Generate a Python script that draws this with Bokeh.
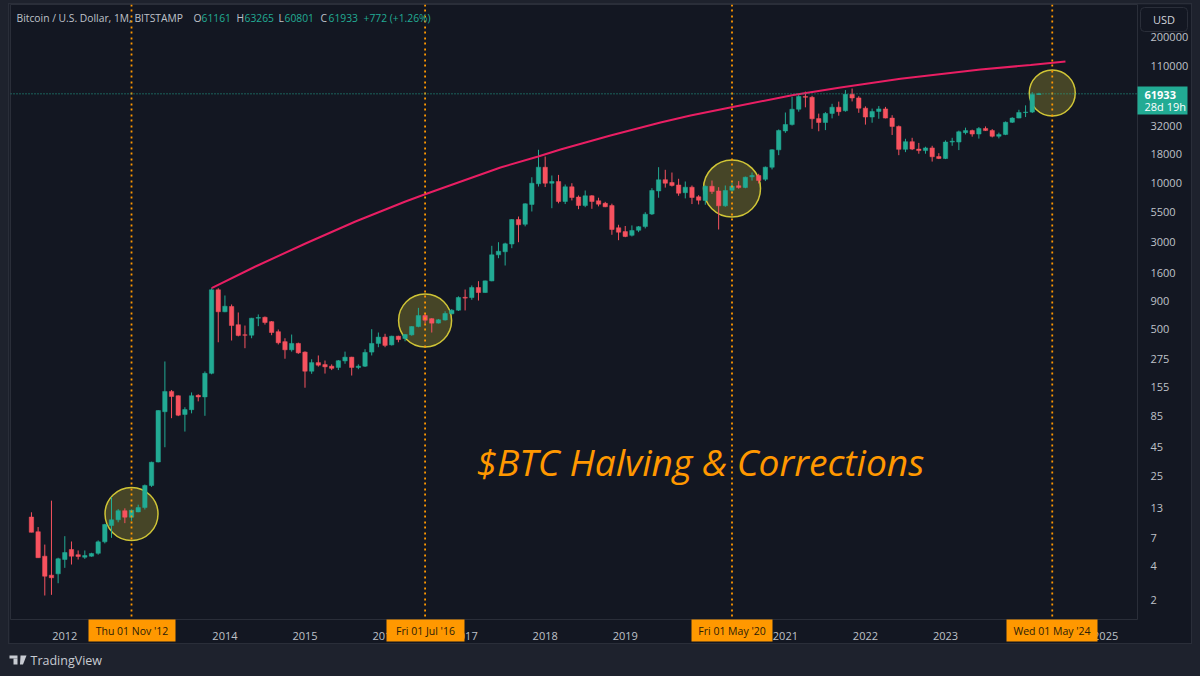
from bokeh.plotting import figure
from bokeh.layouts import column
from bokeh.models import (BoxAnnotation, ColumnDataSource, FixedTicker, Label, PolyAnnotation, Span,
                          BasicTickFormatter)
from bokeh.embed import file_html
from bokeh.resources import INLINE

# ---- monthly candles, Aug 2011 .. Mar 2024 -----------------------------------------
first_month = -5  # months after Jan 2012
opens = [10.8, 8.0, 4.85, 3.29, 3.38,
         4.53, 5.56, 5.0, 4.75, 4.85, 5.14, 6.5, 9.1, 10.2, 12.3, 10.76, 12.0,
         13.1, 20.6, 33.3, 93, 141, 129, 88, 97, 130, 126, 204, 1126,
         718, 800, 552, 448, 445, 630, 642, 587, 478, 390, 330, 376,
         315, 213, 254, 244, 236, 230, 263, 284, 230, 236, 315, 376,
         428, 365, 436, 416, 448, 531, 665, 624, 570, 607, 690, 742,
         965, 960, 1180, 1064, 1350, 2300, 2450, 2870, 4740, 4300, 6450, 9850,
         13800, 9950, 10300, 6850, 9250, 7500, 6300, 7700, 6950, 6600, 6300, 4000,
         3700, 3430, 3800, 4100, 5300, 8500, 10700, 10100, 9600, 8200, 9178, 7540,
         7000, 9354, 8500, 6270, 8620, 9450, 9130, 11340, 11650, 10780, 13800, 19700,
         29000, 33000, 45200, 58700, 57700, 37300, 34440, 41500, 47100, 43800, 61300, 57000,
         46200, 38500, 43200, 45500, 37700, 31800, 19900, 23300, 20000, 19400, 20500, 17150,
         16500, 23100, 23100, 28000, 29200, 27200, 30500, 29200, 26000, 27000, 34600, 37700,
         42300, 42600, 61161]
highs = [11.9, 8.8, 6.15, 15.1, 4.7,
         7.3, 6.55, 5.45, 5.45, 5.2, 6.7, 9.4, 16.2, 12.7, 12.9, 12.6, 13.9,
         21, 33.5, 96, 260, 145, 130, 102, 138, 133, 212, 1163, 1163,
         1002, 834, 708, 542, 634, 680, 652, 595, 500, 418, 451, 382,
         320, 272, 294, 265, 245, 268, 318, 286, 245, 334, 503, 470,
         458, 440, 440, 455, 535, 778, 698, 630, 620, 725, 760, 985,
         1132, 1230, 1342, 1360, 2768, 2979, 2950, 4780, 5038, 6600, 11250, 19724,
         17180, 11656, 11800, 9700, 9954, 7750, 8576, 7800, 7400, 6800, 6550, 4256,
         4150, 4200, 4150, 5500, 9000, 13814, 13098, 12388, 10900, 10312, 9500, 7800,
         9500, 10520, 9178, 9500, 10000, 10400, 11400, 12400, 12070, 14000, 19900, 29900,
         42270, 58350, 61780, 64800, 59500, 41300, 42600, 50500, 52800, 66900, 69000, 59000,
         47900, 45800, 48200, 47400, 40000, 32400, 24700, 25200, 22700, 21000, 21400, 18400,
         23900, 25200, 29200, 31000, 29800, 31400, 31800, 30100, 28000, 35200, 38400, 44700,
         48900, 64000, 63265]
lows = [7.9, 4.7, 2.17, 2.2, 2.79,
        3.82, 4.09, 4.53, 4.59, 4.8, 5.0, 6.3, 7.06, 9.7, 9.53, 10.0, 11.9,
        12.6, 20, 33, 45, 81.5, 85, 62, 90, 115, 85.6, 200, 385,
        712, 399, 434, 341, 418, 535, 553, 445, 368, 275, 318, 304,
        152, 202, 234, 203, 218, 218, 248, 195, 222, 232, 294, 348,
        348, 360, 385, 393, 440, 523, 565, 470, 565, 600, 680, 730,
        738, 918, 904, 1060, 1340, 2148, 1850, 2636, 2979, 4120, 5584, 9300,
        9200, 5972, 6600, 6500, 7000, 5852, 6100, 5900, 6200, 6100, 3468, 3104,
        3300, 3350, 3660, 3950, 5200, 7400, 9100, 9300, 7700, 7300, 6500, 6450,
        6400, 8000, 3864, 6150, 8130, 8900, 8980, 10500, 9900, 10400, 13200, 17660,
        27900, 32400, 43000, 47000, 30272, 28800, 29500, 37500, 39600, 43000, 53000, 42000,
        33000, 34300, 37200, 37500, 26700, 17660, 18800, 19600, 18200, 18200, 15500, 16300,
        16300, 21400, 19600, 27000, 25800, 24800, 29000, 25400, 24900, 26600, 34100, 37600,
        38500, 41800, 60801]
closes = [7.9, 4.7, 3.22, 3.12, 4.6,
          5.23, 4.85, 4.82, 4.92, 5.12, 6.5, 9.27, 10.2, 12.3, 10.76, 12.4, 13.1,
          20.6, 33.1, 95.3, 141, 127, 86.7, 97.3, 129, 126, 204, 1126, 718,
          805, 542, 443, 445, 630, 639, 577, 470, 381, 330, 376, 310,
          213, 254, 241, 233, 226, 264, 284, 230, 236, 313, 376, 428,
          361, 436, 407, 451, 531, 665, 604, 569, 610, 694, 741, 962,
          950, 1180, 1064, 1352, 2302, 2478, 2884, 4740, 4256, 6532, 9954, 13814,
          9954, 10300, 6854, 9250, 7432, 6310, 7696, 6854, 6486, 6148, 3864, 3656,
          3350, 3784, 4084, 5284, 8576, 10674, 9954, 9506, 8116, 9178, 7432, 7032,
          9354, 8396, 6270, 8576, 9354, 9100, 11250, 11656, 10520, 13814, 19724, 29244,
          33060, 45200, 58620, 57700, 37160, 34440, 41400, 47100, 43000, 61300, 56900, 46200,
          38500, 43200, 45500, 37700, 31800, 19900, 23300, 20000, 19400, 20500, 17100, 16500,
          23100, 23500, 28500, 29200, 27200, 30500, 29200, 26000, 27000, 34600, 37700, 42300,
          42600, 61200, 61933]

# ---- drawn overlays --------------------------------------------------------------------
curve_month = [22, 28.58, 36.08, 43.57, 51.06, 53.9, 57.06, 65.3, 70.95, 74.29, 81.79, 89.28,
               93.78, 99.92, 109.2, 116.27, 125.26, 137.25, 144.74, 149.98]
curve_price = [1163, 1813, 2902, 4550, 6848, 7904, 9210, 13726, 17192, 19834, 26414, 34454,
               39760, 47120, 60480, 70480, 84200, 101840, 111680, 119950]
halving_month = [10, 54, 100, 148]
halving_label = ["Thu 01 Nov '12", "Fri 01 Jul '16", "Fri 01 May '20", "Wed 01 May '24"]
circle_price = [11.5, 601, 8930, 63000]
circle_size = [53, 53, 57, 46]

year_ticks = [0, 24, 36, 48, 60, 72, 84, 96, 108, 120, 132, 156]
year_labels = ["2012", "2014", "2015", "2016", "2017", "2018", "2019", "2020", "2021", "2022", "2023", "2025"]
price_ticks = [2, 4, 7, 13, 25, 45, 85, 155, 275, 500, 900, 1600, 3000, 5500, 10000, 18000, 32000,
               110000, 200000]
last_price = 61933

BG, PANEL, EDGE = "#1e222d", "#131722", "#2a2e39"
UP, DOWN = "#22ab94", "#f7525f"
ORANGE = "#ff9800"
TEXT = "#bfc2c9"
FONT = "Open Sans"

# ---- frame: the figure covers the chart panel, page position (9, 4) ---------------------
OX, OY = 9, 4
FL, FR, FT, FB = 10, 1137, 4, 619
ppm, x0 = 6.672, 64.3
ppd, y2 = 112.6, 599.0
x_start, x_end = (FL - x0) / ppm, (FR - x0) / ppm
y_low = 2 * 10 ** ((y2 - FB) / ppd)
y_high = 2 * 10 ** ((y2 - FT) / ppd)

p = figure(width=1182, height=639, output_backend="svg", toolbar_location=None,
           y_axis_type="log", y_axis_location="right",
           x_range=(x_start, x_end), y_range=(y_low, y_high),
           min_border_left=FL - OX, min_border_right=OX + 1182 - FR, min_border_top=0,
           min_border_bottom=OY + 639 - FB,
           background_fill_color=PANEL, border_fill_color=PANEL, outline_line_color=EDGE,
           margin=(OY, 9, 33, OX))
p.grid.visible = False
p.styles = {"outline": f"1px solid {EDGE}"}

for ax in (p.xaxis[0], p.yaxis[0]):
    ax.axis_line_color = None
    ax.major_tick_line_color = None
    ax.minor_tick_line_color = None
    ax.major_label_text_color = TEXT
    ax.major_label_text_font = FONT
    ax.major_label_text_font_size = "11px"
p.xaxis[0].ticker = FixedTicker(ticks=year_ticks)
p.xaxis[0].major_label_overrides = dict(zip(year_ticks, year_labels))
p.xaxis[0].major_label_standoff = 6
p.yaxis[0].ticker = FixedTicker(ticks=price_ticks)
p.yaxis[0].formatter = BasicTickFormatter(use_scientific=False)
p.yaxis[0].major_label_overrides = {t: str(t) for t in price_ticks}
p.yaxis[0].major_label_standoff = 7

# ---- marks -----------------------------------------------------------------------------
p.scatter(halving_month, circle_price, size=circle_size, marker="circle",
          fill_color="#ffeb3b", fill_alpha=0.22, line_color="#cfc436", line_width=1.5)

month = [first_month + i for i in range(len(opens))]
colour = [UP if c >= o else DOWN for o, c in zip(opens, closes)]
src = ColumnDataSource(dict(month=month, o=opens, h=highs, l=lows, c=closes, colour=colour))
p.segment("month", "h", "month", "l", source=src, line_color="colour", line_width=1)
p.vbar("month", 0.66, "o", "c", source=src, fill_color="colour", line_color="colour", line_width=0.5)

p.line(curve_month, curve_price, line_color="#e91e63", line_width=2)

for m in halving_month:
    p.add_layout(Span(location=m, dimension="height", line_color=ORANGE, line_width=1.8,
                      line_dash=[2, 3, 2, 4]))
p.add_layout(Span(location=last_price, dimension="width", line_color=UP, line_width=1, line_dash=[1, 2]))

# ---- transparent sheet over the whole page, for everything that sits outside the frame --
sheet = figure(frame_width=1200, frame_height=676, width=1200, height=676, output_backend="svg",
               toolbar_location=None, x_axis_location=None, y_axis_location=None,
               x_range=(0, 1200), y_range=(676, 0),
               min_border=0, min_border_left=0, min_border_right=0, min_border_top=0, min_border_bottom=0,
               background_fill_alpha=0, border_fill_alpha=0, outline_line_color=None,
               margin=0, styles={"position": "absolute", "top": "0px", "left": "0px", "width": "1200px"})
sheet.grid.visible = False


def txt(x, y, s, color=TEXT, size=11, align="left", style="normal"):
    sheet.add_layout(Label(x=x, y=y, x_units="canvas", y_units="canvas", text=s, text_color=color,
                           text_font_size=f"{size}px", text_font=FONT, text_align=align,
                           text_baseline="middle", text_font_style=style))


def box(l, r, t, b, fill, line=None, radius=0):
    sheet.add_layout(BoxAnnotation(left=l, right=r, top=t, bottom=b, left_units="canvas", right_units="canvas",
                                   top_units="canvas", bottom_units="canvas", fill_color=fill, fill_alpha=1,
                                   line_color=line, line_alpha=1 if line else 0, line_width=1,
                                   border_radius=radius, editable=False))


# header legend
txt(16, 17, "Bitcoin / U.S. Dollar, 1M, BITSTAMP", size=10.3)
for lx, letter, vx, value in [(193, "O", 201, "61161"), (236, "H", 244, "63265"),
                              (278, "L", 284, "60801"), (320, "C", 328, "61933")]:
    txt(lx, 17, letter, size=10.3)
    txt(vx, 17, value, UP, size=10.3)
txt(363, 17, "+772 (+1.26%)", UP, size=10.3)

# right-hand widgets
box(1140, 1187, 7, 31, PANEL, EDGE, radius=4)
txt(1163.5, 19, "USD", "#d1d4dc", 11, "center")
box(1137, 1187, 86, 114, UP)
txt(1144, 94, "61933", "#ffffff", 11, style="bold")
txt(1144, 106, "28d 19h", "#ffffff", 11)

# halving date tags
for (l, r), s in zip([(88, 175), (386, 464), (691, 772), (1006, 1097)], halving_label):
    box(l, r, 619, 641, ORANGE)
    txt((l + r) / 2, 630.5, s, "#2b2008", 10.5, "center")

# annotation
txt(476, 461, "$BTC Halving & Corrections", ORANGE, 37.2, style="italic")

# footer
LOGO = "#c8cbd2"
box(9, 17, 655, 658, LOGO)
box(13, 17, 658, 664, LOGO)
sheet.add_layout(PolyAnnotation(xs=[20, 26, 22.5, 19.5], ys=[655, 655, 664, 664], xs_units="canvas",
                                ys_units="canvas", fill_color=LOGO, fill_alpha=1, line_alpha=0, editable=False))
txt(30, 660, "TradingView", LOGO, 12.5)

layout = column(p, sheet, spacing=0)
html = file_html(layout, INLINE)
html = html.replace("</head>", f"<style>html,body{{margin:0;padding:0;background:{BG};overflow:hidden}}</style></head>", 1)
open("out.html", "w").write(html)
